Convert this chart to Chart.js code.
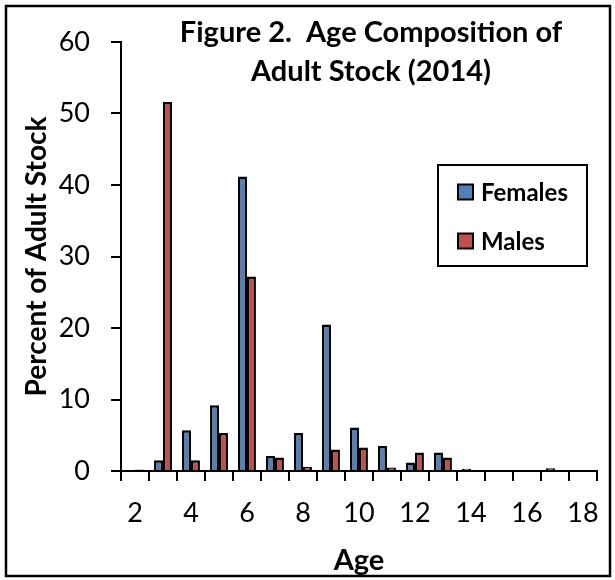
<!DOCTYPE html>
<html>
<head>
<meta charset="utf-8">
<title>Age Composition of Adult Stock (2014)</title>
<script src="https://cdn.jsdelivr.net/npm/chart.js@4.4.1/dist/chart.umd.min.js"></script>
<style>
    html, body { margin: 0; padding: 0; background: #fff; }
    #wrap { position: relative; width: 615px; height: 580px; }
</style>
</head>
<body>
<div id="wrap"><canvas id="ageChart" width="615" height="580"></canvas></div>
<script>
// Age composition data (percent of adult stock)

const ages = ['2', '3', '4', '5', '6', '7', '8', '9', '10', '11', '12', '13', '14', '15', '16', '17', '18'];
const females = [0, 1.5, 5.7, 9.2, 41.2, 2.1, 5.3, 20.5, 6.1, 3.5, 1.2, 2.6, 0.3, 0, 0, 0.4, 0];
const males = [0.2, 51.6, 1.5, 5.3, 27.2, 1.9, 0.6, 3.0, 3.3, 0.5, 2.6, 1.9, 0.1, 0, 0.1, 0, 0.1];
const yTicks = [0, 10, 20, 30, 40, 50, 60];
const xTickLabels = ['2', '4', '6', '8', '10', '12', '14', '16', '18'];

const titleLines = ['Figure 2.  Age Composition of', 'Adult Stock (2014)'];
const FONT = 'Lato, "Open Sans", sans-serif';

// frame, title and legend drawn on top of the chart
const overlayPlugin = {
    id: 'overlay',
    afterDraw(chart) {
        const ctx = chart.ctx;
        ctx.save();

        ctx.strokeStyle = '#000';
        ctx.lineWidth = 2.5;
        ctx.strokeRect(6, 6, 604, 570);

        ctx.fillStyle = '#000';
        ctx.font = 'bold 29px ' + FONT;
        ctx.textAlign = 'center';
        ctx.textBaseline = 'middle';
        titleLines.forEach((line, i) => ctx.fillText(line, 371, 33 + i * 39));

        // legend box
        ctx.lineWidth = 2;
        ctx.strokeRect(438, 165, 149, 101);
        ctx.font = 'bold 24px ' + FONT;
        ctx.textAlign = 'left';
        chart.data.datasets.forEach((ds, i) => {
            const y = 192 + i * 49;
            ctx.fillStyle = ds.backgroundColor;
            ctx.fillRect(458, y - 7.5, 15, 15);
            ctx.strokeRect(458, y - 7.5, 15, 15);
            ctx.fillStyle = '#000';
            ctx.fillText(ds.label, 481, y + 1);
        });

        ctx.restore();
    }
};

const ctx = document.getElementById('ageChart').getContext('2d');
new Chart(ctx, {
    type: 'bar',
    data: {
        labels: ages,
        datasets: [
            { label: 'Females', data: females, backgroundColor: '#4F81BD', borderColor: '#000', borderWidth: 2.5 },
            { label: 'Males', data: males, backgroundColor: '#C0504D', borderColor: '#000', borderWidth: 2.5 }
        ]
    },
    options: {
        responsive: false,
        animation: false,
        devicePixelRatio: 1,
        layout: { padding: { left: 0, top: 42, right: 13, bottom: 0 } },
        datasets: { bar: { categoryPercentage: 0.64, barPercentage: 1.0 } },
        plugins: {
            legend: { display: false },
            title: { display: false },
            tooltip: { enabled: false }
        },
        scales: {
            x: {
                afterFit: s => { s.height = 109; },
                grid: { display: true, drawOnChartArea: false, tickLength: 10, color: '#000', lineWidth: 2 },
                border: { display: true, color: '#000', width: 2 },
                ticks: {
                    autoSkip: false,
                    maxRotation: 0,
                    padding: 16,
                    color: '#000',
                    font: { family: FONT, size: 27 },
                    callback: function(value) {
                        const lbl = this.getLabelForValue(value);
                        return xTickLabels.includes(lbl) ? lbl : '';
                    }
                },
                title: {
                    display: true,
                    text: 'Age',
                    color: '#000',
                    font: { family: FONT, size: 29, weight: 'bold' },
                    padding: { top: 0, bottom: 2 }
                }
            },
            y: {
                min: 0,
                max: 60,
                afterFit: s => { s.width = 121; },
                afterBuildTicks: s => { s.ticks = yTicks.map(v => ({ value: v })); },
                grid: { display: true, drawOnChartArea: false, tickLength: 10, color: '#000', lineWidth: 2 },
                border: { display: true, color: '#000', width: 2 },
                ticks: {
                    padding: 21,
                    color: '#000',
                    font: { family: FONT, size: 27 }
                },
                title: {
                    display: true,
                    text: 'Percent of Adult Stock',
                    color: '#000',
                    font: { family: FONT, size: 28, weight: 'bold' },
                    padding: { top: 20, bottom: 0 }
                }
            }
        }
    },
    plugins: [overlayPlugin]
});
</script>
</body>
</html>
